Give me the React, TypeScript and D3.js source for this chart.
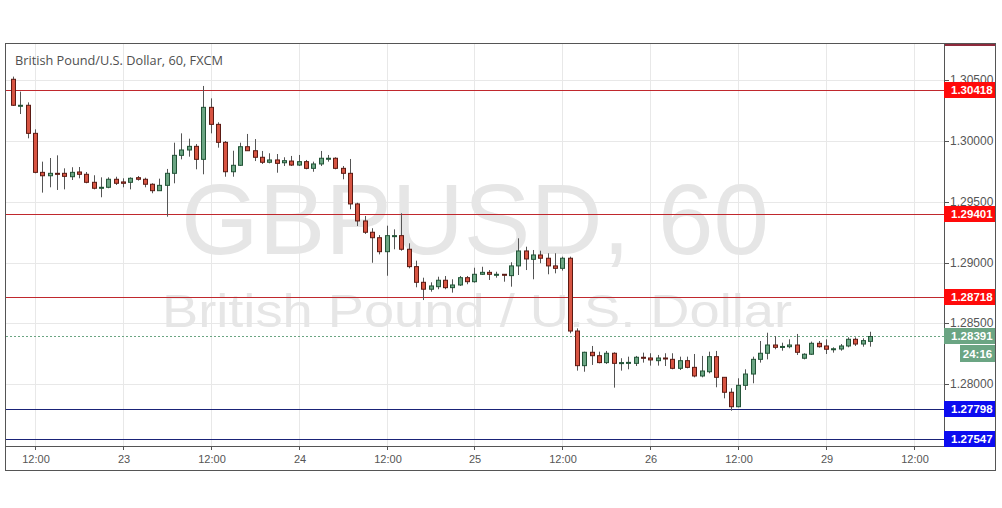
import React from 'react';
import * as d3 from 'd3';

// hourly GBP/USD candles, Oct 22 09:00 -> Oct 29 06:00
const opens = [
  1.30508, 1.30294, 1.30294, 1.30063, 1.29742, 1.29714, 1.29734, 1.29734, 1.29706, 1.29745,
  1.29726, 1.2966, 1.29619, 1.29619, 1.29685, 1.29663, 1.2966, 1.29698, 1.29685, 1.29644,
  1.29591, 1.29635, 1.29734, 1.29882, 1.29926, 1.29956, 1.29849, 1.30277, 1.30137, 1.29989,
  1.29747, 1.298, 1.29953, 1.2992, 1.29866, 1.29825, 1.29844, 1.29821, 1.29835, 1.29802,
  1.2983, 1.29775, 1.29811, 1.29858, 1.29858, 1.29775, 1.29734, 1.29482, 1.29342, 1.29249,
  1.29204, 1.29089, 1.29221, 1.29221, 1.29109, 1.28966, 1.28837, 1.2878, 1.28801, 1.28854,
  1.28793, 1.28815, 1.28875, 1.28842, 1.28903, 1.28919, 1.28903, 1.28903, 1.28892, 1.28972,
  1.29095, 1.29026, 1.29062, 1.29035, 1.28972, 1.28952, 1.29035, 1.28436, 1.28151, 1.28261,
  1.28233, 1.28176, 1.28253, 1.28176, 1.28176, 1.2817, 1.2822, 1.28214, 1.28192, 1.28214,
  1.28203, 1.28129, 1.28192, 1.28137, 1.28066, 1.28101, 1.28225, 1.28055, 1.27932, 1.27813,
  1.27989, 1.28082, 1.28203, 1.28253, 1.28321, 1.28305, 1.28307, 1.28321, 1.28212, 1.28245,
  1.28335, 1.28313, 1.28288, 1.28288, 1.28313, 1.28368, 1.28329, 1.28351,
];
const highs = [
  1.3053, 1.30406, 1.30318, 1.30096, 1.2983, 1.2986, 1.29882, 1.29775, 1.29784, 1.29786,
  1.29745, 1.29718, 1.29701, 1.29701, 1.29706, 1.29693, 1.29701, 1.29712, 1.29698, 1.29652,
  1.2969, 1.2977, 1.29986, 1.30063, 1.30019, 1.29975, 1.30453, 1.30351, 1.30154, 1.3,
  1.2992, 1.29986, 1.30058, 1.30016, 1.29918, 1.29899, 1.29893, 1.29866, 1.29877, 1.29885,
  1.29844, 1.2983, 1.29918, 1.29885, 1.29866, 1.29794, 1.29852, 1.29492, 1.29383, 1.29282,
  1.29226, 1.29303, 1.29273, 1.29405, 1.29158, 1.29015, 1.28875, 1.28837, 1.28883, 1.28889,
  1.28862, 1.28889, 1.28889, 1.28957, 1.28965, 1.28938, 1.28924, 1.28905, 1.29002, 1.29199,
  1.2913, 1.29103, 1.29097, 1.29076, 1.29076, 1.29048, 1.29048, 1.28458, 1.28266, 1.28313,
  1.28266, 1.28272, 1.28261, 1.28212, 1.28225, 1.28231, 1.28258, 1.28253, 1.28239, 1.28253,
  1.28253, 1.28225, 1.28225, 1.28247, 1.28231, 1.28266, 1.28272, 1.28055, 1.27965, 1.28047,
  1.28121, 1.28225, 1.28354, 1.28422, 1.28395, 1.2834, 1.28368, 1.28412, 1.28253, 1.28349,
  1.28354, 1.28368, 1.28302, 1.28329, 1.28384, 1.28384, 1.28376, 1.2843,
];
const lows = [
  1.30288, 1.30222, 1.30022, 1.29734, 1.29575, 1.29619, 1.29597, 1.29602, 1.29679, 1.29693,
  1.29652, 1.29602, 1.29537, 1.29611, 1.29638, 1.29619, 1.29602, 1.29674, 1.29619, 1.2957,
  1.29591, 1.29377, 1.29652, 1.29849, 1.29871, 1.29767, 1.29726, 1.30063, 1.29945, 1.29706,
  1.29706, 1.29794, 1.2992, 1.29835, 1.29811, 1.29816, 1.29739, 1.29794, 1.29794, 1.29794,
  1.29767, 1.29747, 1.29794, 1.2983, 1.29767, 1.29685, 1.29438, 1.293, 1.29235, 1.28998,
  1.29067, 1.28891, 1.29109, 1.29097, 1.28952, 1.28796, 1.28691, 1.2876, 1.2878, 1.2878,
  1.28752, 1.28807, 1.28821, 1.28834, 1.28897, 1.28856, 1.28875, 1.28842, 1.28801, 1.28897,
  1.28938, 1.28862, 1.28994, 1.28903, 1.28911, 1.28933, 1.28417, 1.2811, 1.28101, 1.28157,
  1.2817, 1.28165, 1.2797, 1.2811, 1.28121, 1.28148, 1.28176, 1.28151, 1.28151, 1.28148,
  1.28121, 1.28115, 1.28129, 1.28055, 1.28055, 1.28088, 1.27973, 1.27882, 1.2778, 1.27808,
  1.27951, 1.28006, 1.28176, 1.28203, 1.28286, 1.28274, 1.28294, 1.28239, 1.28203, 1.28239,
  1.28299, 1.28247, 1.28258, 1.28274, 1.28302, 1.28313, 1.28307, 1.28307,
];
const closes = [
  1.30294, 1.30294, 1.30063, 1.29742, 1.29714, 1.29734, 1.2973, 1.29709, 1.29742, 1.29726,
  1.2966, 1.29611, 1.29619, 1.29685, 1.29652, 1.29652, 1.29693, 1.29685, 1.29644, 1.29591,
  1.29635, 1.29734, 1.29882, 1.29926, 1.29956, 1.29849, 1.30277, 1.30137, 1.29989, 1.29747,
  1.298, 1.29953, 1.2992, 1.29866, 1.29825, 1.29844, 1.29816, 1.29838, 1.29802, 1.2983,
  1.29775, 1.29811, 1.29858, 1.29858, 1.29775, 1.29734, 1.29482, 1.29342, 1.29249, 1.29204,
  1.29089, 1.29221, 1.29221, 1.29109, 1.28966, 1.28837, 1.2878, 1.28807, 1.28854, 1.28793,
  1.28815, 1.28875, 1.28842, 1.28903, 1.28919, 1.28903, 1.28903, 1.28895, 1.28972, 1.29095,
  1.29029, 1.29062, 1.29035, 1.28972, 1.28952, 1.29035, 1.28436, 1.28151, 1.28261, 1.28233,
  1.28176, 1.28253, 1.2817, 1.28176, 1.28178, 1.2822, 1.28214, 1.28198, 1.28214, 1.28206,
  1.28129, 1.28192, 1.28137, 1.28066, 1.28107, 1.28225, 1.28055, 1.27932, 1.27813, 1.27989,
  1.28082, 1.28203, 1.28253, 1.28321, 1.28302, 1.28309, 1.28321, 1.28261, 1.28245, 1.28335,
  1.28307, 1.28286, 1.2829, 1.28313, 1.28368, 1.28329, 1.28357, 1.28391,
];

// bar index of each time label (every 12 bars)
const timeTickBars = [3, 15, 27, 39, 51, 63, 75, 87, 99, 111, 123];
const timeLabels = ['12:00', '23', '12:00', '24', '12:00', '25', '12:00', '26', '12:00', '29', '12:00'];
const priceTicks = [1.305, 1.3, 1.295, 1.29, 1.285, 1.28];
const redLevels = [1.30418, 1.29401, 1.28718];
const blueLevels = [1.27798, 1.27547];
const lastPrice = 1.28391;
const countdown = '24:16';

const upFill = '#6ba583';
const upLine = '#225437';
const downFill = '#d75442';
const downLine = '#5b1a13';

export default function App() {
  const left = 6;
  const right = 944;
  const top = 44;
  const bottom = 446;

  const x = d3.scaleLinear().domain([0, opens.length - 1]).range([13, 870]);
  const y = d3.scaleLinear().domain([1.28, 1.3]).range([384, 141]);
  const fmt = d3.format('.5f');
  const mono = 'Liberation Sans, Arial, sans-serif';

  const levelLabel = (v: number, fill: string, key: string) => (
    <g key={key}>
      <rect x={944} y={Math.round(y(v)) - 8} width={51} height={16} fill={fill} />
      <text x={951} y={Math.round(y(v)) + 4} fill="#fff" fontSize={11.5} fontWeight="bold" fontFamily={mono}>
        {fmt(v)}
      </text>
    </g>
  );

  return (
    <div style={{ position: 'absolute', left: 0, top: 0, width: 1002, height: 508, background: '#fff' }}>
      <svg width={1002} height={508} style={{ display: 'block' }}>
        <rect width={1002} height={508} fill="#fff" />

        {/* grid */}
        <g stroke="#e8e8e8" shapeRendering="crispEdges">
          {timeTickBars.map((b, i) => (
            <line key={'vg' + i} x1={Math.round(x(b)) + 0.5} x2={Math.round(x(b)) + 0.5} y1={top} y2={bottom} />
          ))}
          {priceTicks.map((p, i) => (
            <line key={'hg' + i} x1={left} x2={right} y1={Math.round(y(p)) + 0.5} y2={Math.round(y(p)) + 0.5} />
          ))}
        </g>

        {/* watermark */}
        <text x={475} y={254} textAnchor="middle" fontSize={100} fill="#e6e6e6" fontFamily={mono} textLength={588} lengthAdjust="spacingAndGlyphs">
          GBPUSD, 60
        </text>
        <text x={477} y={327} textAnchor="middle" fontSize={47} fill="#e6e6e6" fontFamily={mono} textLength={630} lengthAdjust="spacingAndGlyphs">
          British Pound / U.S. Dollar
        </text>

        {/* title */}
        <text x={15} y={65} fontSize={13} fill="#4f4f4f" fontFamily="'Open Sans', sans-serif" textLength={208} lengthAdjust="spacingAndGlyphs">
          British Pound/U.S. Dollar, 60, FXCM
        </text>

        {/* horizontal levels */}
        {redLevels.map((v, i) => (
          <line key={'rl' + i} x1={left} x2={right} y1={Math.round(y(v)) + 0.5} y2={Math.round(y(v)) + 0.5} stroke="#c0282d" strokeWidth={1.2} />
        ))}
        {blueLevels.map((v, i) => (
          <line key={'bl' + i} x1={left} x2={right} y1={Math.round(y(v)) + 0.5} y2={Math.round(y(v)) + 0.5} stroke="#1a2378" strokeWidth={1.2} />
        ))}
        <line x1={left} x2={right} y1={Math.round(y(lastPrice)) + 0.5} y2={Math.round(y(lastPrice)) + 0.5} stroke={upFill} strokeDasharray="2,2" />

        {/* candles */}
        {opens.map((o, i) => {
          const c = closes[i];
          const up = c >= o;
          const cx = Math.round(x(i));
          const yt = y(Math.max(o, c));
          const yb = y(Math.min(o, c));
          const h = Math.max(1, yb - yt);
          return (
            <g key={'c' + i}>
              <line x1={cx + 0.5} x2={cx + 0.5} y1={y(highs[i])} y2={y(lows[i])} stroke="#555" />
              <rect x={cx - 1.5} y={yt} width={4} height={h} fill={up ? upFill : downFill} stroke={up ? upLine : downLine} strokeWidth={1} />
            </g>
          );
        })}

        {/* axes and frame */}
        <g stroke="#555" shapeRendering="crispEdges">
          <line x1={944.5} x2={944.5} y1={top} y2={bottom} />
          <line x1={left} x2={944.5} y1={bottom + 0.5} y2={bottom + 0.5} />
          <rect x={5.5} y={43.5} width={990} height={427} fill="none" />
          {priceTicks.map((p, i) => (
            <line key={'pt' + i} x1={944} x2={949} y1={Math.round(y(p)) + 0.5} y2={Math.round(y(p)) + 0.5} />
          ))}
          {timeTickBars.map((b, i) => (
            <line key={'tt' + i} x1={Math.round(x(b)) + 0.5} x2={Math.round(x(b)) + 0.5} y1={bottom} y2={bottom + 4} />
          ))}
        </g>
        <line x1={945} x2={995} y1={45} y2={45} stroke="#8e2a3c" strokeWidth={2} />

        {priceTicks.map((p, i) => (
          <text key={'pl' + i} x={950} y={Math.round(y(p)) + 4} fontSize={12} fill="#555" fontFamily={mono}>
            {fmt(p)}
          </text>
        ))}
        {timeTickBars.map((b, i) => (
          <text key={'tl' + i} x={Math.round(x(b)) + 1} y={463} textAnchor="middle" fontSize={11} fill="#555" fontFamily={mono}>
            {timeLabels[i]}
          </text>
        ))}

        {/* level labels */}
        {redLevels.map((v, i) => levelLabel(v, '#ff0a0a', 'rlab' + i))}
        {blueLevels.map((v, i) => levelLabel(v, '#0c0cf0', 'blab' + i))}
        {levelLabel(lastPrice, upFill, 'last')}
        <rect x={960} y={Math.round(y(lastPrice)) + 9} width={35} height={17} fill={upFill} />
        <text x={977.5} y={Math.round(y(lastPrice)) + 22} textAnchor="middle" fill="#fff" fontSize={11.5} fontWeight="bold" fontFamily={mono}>
          {countdown}
        </text>
      </svg>
    </div>
  );
}
